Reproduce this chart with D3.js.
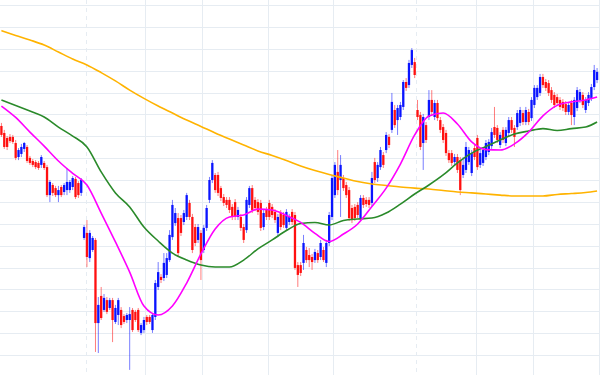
<!DOCTYPE html>
<html><head><meta charset="utf-8">
<script src="https://cdn.jsdelivr.net/npm/d3@7"></script>
<style>html,body{margin:0;padding:0;background:#fff}svg{display:block}</style>
</head><body>
<svg id="chart" width="600" height="375"></svg>
<script>
// ---- data (daily candles, oldest first) ----
const open = [
110.47,110.15,109.92,109.97,109.97,109.69,109.05,109.19,109.42,109.51,
109.01,108.87,108.82,108.78,108.69,108.78,108.59,107.31,107.77,107.63,
107.31,107.68,107.45,107.54,107.54,107.68,108.05,107.86,107.41,105.35,
105.58,104.43,104.80,105.26,101.46,102.70,102.06,102.51,102.15,102.51,
101.51,101.83,102.06,101.78,101.60,101.60,102.06,101.97,102.06,101.01,
101.14,101.74,101.74,101.14,101.74,103.11,103.57,103.52,103.66,104.34,
105.39,106.03,106.26,106.26,106.08,106.31,106.95,106.31,105.85,105.26,
105.58,104.80,105.81,107.09,108.00,108.23,108.23,107.63,107.22,107.09,
107.09,106.77,106.99,106.31,106.31,105.85,105.71,106.86,107.63,107.09,
106.99,106.95,105.85,106.63,106.95,106.77,106.54,105.58,106.49,106.40,
105.81,106.08,106.54,106.40,104.11,104.11,104.21,104.80,104.57,104.48,
104.34,104.66,104.48,104.80,104.21,105.12,106.31,107.31,108.37,108.00,
108.09,107.77,107.54,106.72,106.77,106.86,106.26,107.18,107.09,107.09,
106.95,108.82,108.09,108.59,109.14,109.37,109.97,110.29,111.20,110.74,
110.88,111.34,112.48,112.34,113.26,113.39,111.20,110.97,109.69,110.51,
110.88,111.66,110.88,111.52,110.74,110.42,110.15,109.23,109.23,108.82,
109.05,108.91,108.23,108.46,108.82,108.32,109.46,109.92,108.69,108.78,
109.05,109.28,109.55,110.42,110.38,109.60,110.29,109.69,110.15,110.74,
110.38,110.42,110.61,111.06,110.65,111.11,110.83,111.43,111.79,111.98,
112.71,112.48,112.43,112.11,111.89,111.79,111.66,111.57,111.47,111.11,
111.52,110.88,111.29,111.66,111.89,111.20,111.52,111.75,112.25,112.57];
const high = [
110.61,110.29,110.01,110.10,110.06,109.83,109.46,109.65,109.74,109.60,
109.10,108.96,108.91,108.87,109.14,108.87,108.69,108.00,107.86,107.73,
107.73,107.77,107.86,108.55,108.00,108.18,108.14,107.95,108.09,105.94,
106.17,105.71,105.44,105.35,102.65,103.11,102.79,102.65,102.61,102.61,
102.29,102.61,102.19,101.87,101.92,102.19,102.15,102.06,102.15,101.46,
101.74,101.83,101.83,101.92,103.43,104.25,103.70,104.66,104.66,105.71,
107.09,106.72,106.49,106.40,106.63,107.41,107.09,106.45,105.99,105.99,
105.71,105.94,106.86,108.14,108.91,108.32,108.37,107.73,107.36,107.22,
107.22,106.90,107.13,106.77,106.45,105.99,107.22,107.73,107.77,107.22,
107.13,107.09,106.63,106.77,107.09,106.90,106.67,106.45,106.63,106.54,
106.67,106.45,106.67,106.54,104.25,104.25,105.49,104.94,104.89,104.62,
104.85,104.80,105.26,104.94,105.26,106.54,108.23,108.82,109.37,109.14,
108.23,107.91,107.68,106.86,106.90,106.99,107.31,107.31,107.22,107.22,
108.37,109.01,108.82,109.51,109.28,110.19,110.10,111.98,111.43,111.43,
111.57,112.57,112.66,113.49,114.03,113.58,111.66,111.11,111.02,110.65,
112.11,112.11,111.66,111.66,110.88,110.56,110.29,109.37,109.37,109.19,
109.19,109.05,109.05,109.74,109.51,109.37,109.60,110.06,109.37,109.51,
109.83,109.87,110.38,111.34,110.51,110.19,110.42,110.42,110.88,110.88,
110.51,111.20,111.34,111.20,111.34,111.25,111.79,112.34,112.34,112.85,
112.85,112.62,112.57,112.25,112.02,111.93,111.79,111.70,111.61,111.57,
111.66,111.79,112.25,112.16,112.02,111.79,112.02,112.39,113.26,113.12];
const low = [
109.97,109.42,109.37,109.69,109.65,108.91,108.91,109.05,109.28,108.78,
108.69,108.59,108.50,108.46,108.55,108.46,107.22,106.99,107.27,107.22,
106.99,107.22,107.31,107.31,107.41,107.54,107.13,107.18,107.27,105.26,
104.02,104.25,104.71,100.14,100.09,101.60,101.97,101.87,102.06,100.59,
101.42,101.37,101.23,101.42,101.46,99.32,101.05,101.51,101.05,100.91,
101.01,101.37,101.42,101.01,101.60,102.97,103.29,103.38,103.52,104.25,
105.26,105.90,104.48,105.44,105.94,106.17,106.17,104.66,104.98,105.12,
103.43,104.66,105.67,106.95,107.86,107.41,107.27,107.04,106.81,106.72,
106.49,106.17,106.17,106.17,105.67,105.12,105.58,106.72,106.49,106.58,
106.40,105.67,105.71,106.17,106.17,106.26,106.03,105.39,105.71,105.81,
105.67,105.94,105.94,103.89,103.11,103.61,103.89,104.21,104.02,103.89,
104.21,104.21,104.34,104.25,104.02,104.98,106.17,107.18,107.31,106.31,
107.50,107.18,106.13,106.03,106.13,106.26,106.13,106.72,106.77,106.72,
106.81,107.86,107.91,108.46,108.55,109.23,109.46,110.15,110.38,110.06,
110.74,111.20,112.07,112.21,113.12,112.66,110.74,109.37,108.46,109.69,
110.74,110.97,110.74,110.70,110.15,109.69,109.10,108.78,108.64,108.69,
108.32,107.31,108.09,108.32,108.69,108.18,108.91,108.46,108.55,108.64,
108.91,109.14,109.42,109.92,109.69,109.46,109.69,109.55,110.01,110.15,
109.51,110.29,110.47,110.51,110.51,110.51,110.70,111.29,111.66,111.84,
112.21,112.07,111.84,111.52,111.29,111.38,111.20,111.15,110.97,110.97,
110.51,110.51,111.15,111.52,111.29,111.06,111.38,111.61,112.11,112.43];
const close = [
110.06,109.51,109.51,109.78,109.74,109.01,109.37,109.51,109.69,108.87,
108.78,108.69,108.59,108.55,109.05,108.55,107.31,107.91,107.41,107.31,
107.54,107.31,107.77,107.91,107.91,108.09,107.22,107.31,108.00,105.85,
104.48,105.58,105.35,101.46,102.29,101.69,102.61,101.97,102.51,101.60,
102.15,102.51,101.37,101.51,101.83,101.87,101.14,101.60,101.14,101.37,
101.60,101.51,101.51,101.83,103.29,103.79,103.43,104.21,104.43,105.49,
106.86,106.49,104.66,105.58,106.49,107.31,106.31,104.80,105.12,105.85,
104.34,105.81,106.72,108.00,108.78,107.54,107.41,107.18,106.95,106.86,
106.63,106.31,106.31,106.63,105.81,105.26,107.09,107.63,106.63,106.72,
106.54,105.81,106.49,106.31,106.31,106.40,106.17,106.31,105.85,105.94,
106.54,106.31,106.08,103.98,103.66,103.75,105.12,104.34,104.34,104.25,
104.71,104.34,105.12,104.34,105.12,106.40,108.09,108.69,107.54,108.69,
107.63,107.31,106.26,106.17,106.26,106.40,107.18,106.86,106.90,106.86,
108.09,108.00,108.69,109.37,108.69,110.06,109.60,111.57,110.51,111.29,
111.43,112.48,112.21,113.35,113.94,112.80,110.88,109.51,110.88,109.83,
111.66,111.11,111.52,110.83,110.29,109.83,109.23,108.91,108.78,109.05,
108.46,107.54,108.69,109.51,109.37,109.23,109.05,108.59,109.23,109.37,
109.69,109.74,110.19,110.06,109.83,110.06,109.83,110.29,110.74,110.29,
109.97,111.06,111.20,110.65,111.20,110.65,111.66,112.21,112.21,112.71,
112.34,112.21,111.98,111.66,111.43,111.52,111.34,111.29,111.11,111.43,
110.97,111.66,112.11,112.02,111.43,111.66,111.89,112.25,113.03,112.94];

// moving averages, read at every 5th candle
const maIdx = [0,5,10,15,20,25,30,35,40,45,50,55,60,65,70,75,80,85,90,95,100,
  105,110,115,120,125,130,135,140,145,150,155,160,165,170,175,180,185,190,195,200,205,209];
const maShort = [111.38,110.86,110.19,109.55,108.87,108.30,107.77,106.49,105.17,103.79,102.24,
  101.83,102.24,103.29,104.62,105.76,106.31,106.40,106.67,106.63,106.38,
  106.06,105.56,105.19,105.53,105.99,106.79,107.63,108.73,110.06,110.93,
  111.06,110.56,109.74,109.39,109.37,109.65,110.19,110.93,111.41,111.57,111.66,111.79];
const maMid = [111.66,111.41,111.15,110.88,110.42,110.01,109.51,108.37,107.41,106.77,105.85,
  105.21,104.66,104.34,104.11,104.02,104.02,104.34,104.85,105.26,105.69,
  106.01,106.06,105.94,106.15,106.22,106.26,106.49,106.90,107.36,107.77,
  108.23,108.78,109.23,109.53,109.83,110.10,110.24,110.35,110.26,110.35,110.42,110.65];
const maLong = [114.83,114.61,114.40,114.17,113.85,113.53,113.26,112.91,112.53,112.11,111.73,
  111.38,111.06,110.74,110.45,110.15,109.87,109.60,109.33,109.12,108.89,
  108.64,108.43,108.25,108.09,107.93,107.82,107.75,107.68,107.63,107.59,
  107.52,107.45,107.41,107.36,107.31,107.27,107.27,107.27,107.34,107.38,107.43,107.50];

const priceTicks = d3.range(100, 117, 1);
const monthStartIdx = [30, 51, 71, 94, 117, 146, 167, 187, 210];
const yearStartIdx = [30, 146];

// ---- drawing ----
const W = 600, H = 375;
const svg = d3.select('#chart');
const N = close.length;
const x = d3.scaleBand().domain(d3.range(N)).range([0, 598.5]).padding(0);
const bw = x.bandwidth();
const cx = i => x(i) + bw / 2;
const edge = i => x.range()[0] + i * x.step();
const y = d3.scaleLinear().domain([100, 116]).range([355, 5]);

const gridColor = '#e6ecf2';
const grid = svg.append('g');
grid.selectAll('line.h').data(priceTicks).join('line')
  .attr('x1', 0).attr('x2', W)
  .attr('y1', d => Math.round(y(d)) + 0.5).attr('y2', d => Math.round(y(d)) + 0.5)
  .attr('stroke', gridColor).attr('stroke-width', 1);
grid.selectAll('line.v').data(monthStartIdx).join('line')
  .attr('x1', d => Math.round(edge(d)) + 0.5).attr('x2', d => Math.round(edge(d)) + 0.5)
  .attr('y1', 0).attr('y2', H)
  .attr('stroke', gridColor).attr('stroke-width', 1)
  .attr('stroke-dasharray', d => yearStartIdx.includes(d) ? '4,4' : null);

const up = '#0a14ff', down = '#ff1010';
const candles = svg.append('g').selectAll('g').data(d3.range(N)).join('g');
candles.append('line')
  .attr('x1', i => cx(i)).attr('x2', i => cx(i))
  .attr('y1', i => y(high[i])).attr('y2', i => y(low[i]))
  .attr('stroke', i => close[i] >= open[i] ? up : down)
  .attr('stroke-opacity', 0.55).attr('stroke-width', 1);
const bodyW = 2.3;
candles.append('rect')
  .attr('x', i => cx(i) - bodyW / 2).attr('width', bodyW)
  .attr('y', i => y(Math.max(open[i], close[i])))
  .attr('height', i => Math.max(1, Math.abs(y(open[i]) - y(close[i]))))
  .attr('fill', i => close[i] >= open[i] ? up : down);

function maLine(vals, color) {
  const line = d3.line().x((d, k) => cx(maIdx[k])).y(d => y(d)).curve(d3.curveMonotoneX);
  svg.append('path').datum(vals).attr('d', line)
    .attr('fill', 'none').attr('stroke', color).attr('stroke-width', 1.6);
}
maLine(maLong, '#ffb300');
maLine(maMid, '#2a8a2a');
maLine(maShort, '#ff00ff');
</script>
</body></html>
